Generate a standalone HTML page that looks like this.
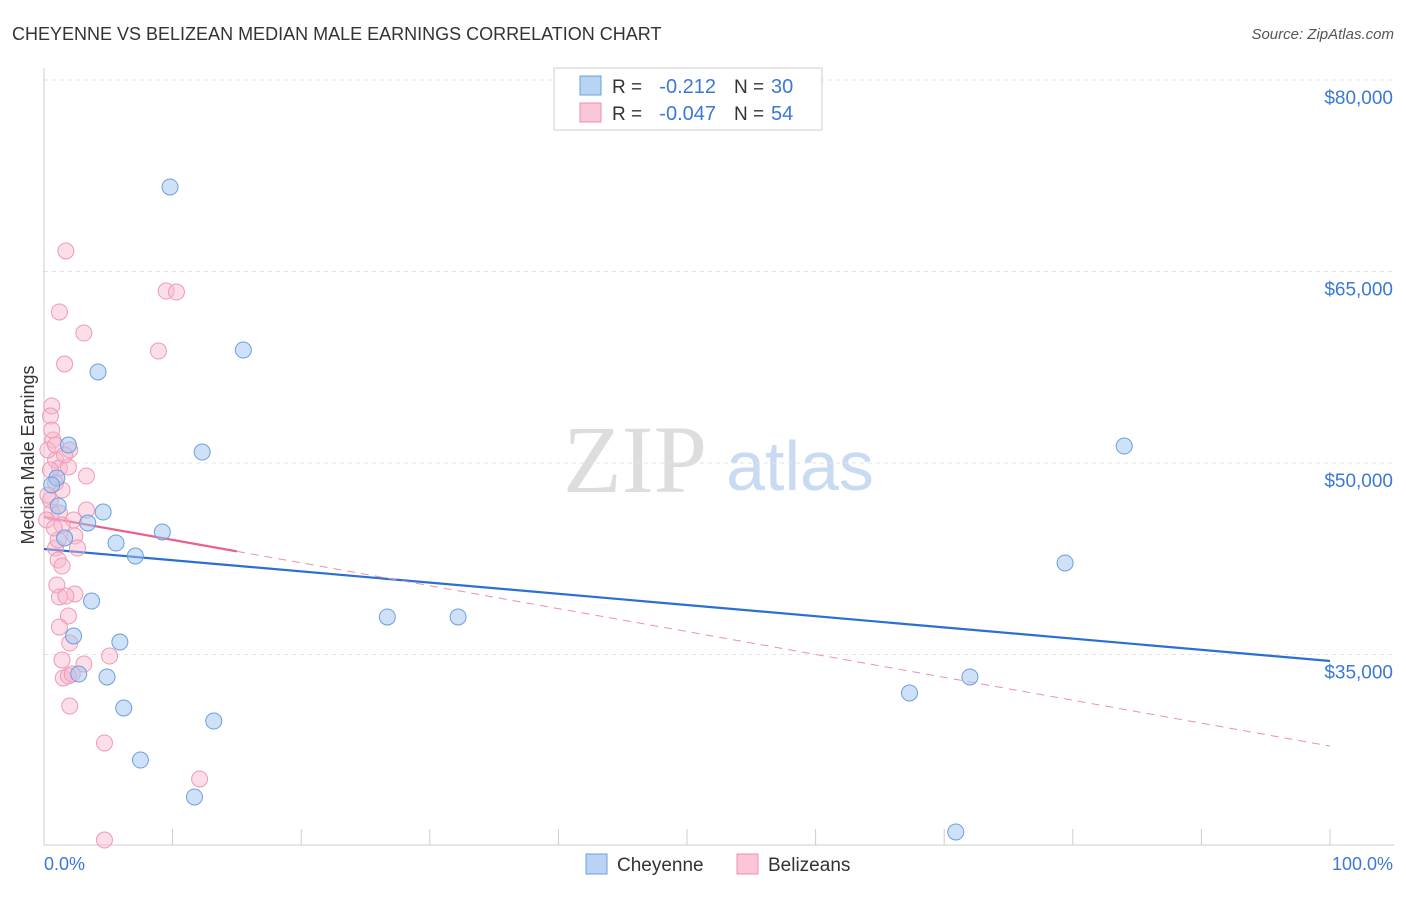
<!DOCTYPE html>
<html><head><meta charset="utf-8"><style>
body{margin:0;background:#fff;font-family:"Liberation Sans",sans-serif;}
</style></head><body>
<svg width="1406" height="892" xmlns="http://www.w3.org/2000/svg" id="chart">
<text x="12" y="40" font-size="18" fill="#333">CHEYENNE VS BELIZEAN MEDIAN MALE EARNINGS CORRELATION CHART</text>
<text x="1394" y="39" font-size="15" fill="#555" font-style="italic" text-anchor="end">Source: ZipAtlas.com</text>
<text x="635" y="492" font-size="96" fill="#ddd" font-family="Liberation Serif,serif" text-anchor="middle">ZIP</text>
<text x="800" y="490" font-size="70" fill="#c9dbf2" text-anchor="middle">atlas</text>
<g id="grid"></g><g id="axes"></g><g id="trend"></g><g id="pts"></g>
<text transform="translate(34,455) rotate(-90)" font-size="18" fill="#333" text-anchor="middle">Median Male Earnings</text>
<text x="44" y="870" font-size="18" fill="#3b78d8">0.0%</text>
<text x="1393" y="870" font-size="18" fill="#3b78d8" text-anchor="end">100.0%</text>
<g>
<rect x="554" y="68" width="268" height="62" fill="#fff" stroke="#ccc"/>
<rect x="580" y="76" width="21" height="19" fill="#b9d3f4" stroke="#6a9fe0"/>
<rect x="580" y="103" width="21" height="19" fill="#f9c6d6" stroke="#ee8fae"/>
<text x="612" y="93" font-size="19" fill="#333">R =</text>
<text x="716" y="93" font-size="20" fill="#3b78d8" text-anchor="end">-0.212</text>
<text x="734" y="93" font-size="19" fill="#333">N =</text>
<text x="771" y="93" font-size="20" fill="#3b78d8">30</text>
<text x="612" y="120" font-size="19" fill="#333">R =</text>
<text x="716" y="120" font-size="20" fill="#3b78d8" text-anchor="end">-0.047</text>
<text x="734" y="120" font-size="19" fill="#333">N =</text>
<text x="771" y="120" font-size="20" fill="#3b78d8">54</text>
</g>
<g>
<rect x="586" y="854" width="21" height="20" fill="#b9d3f4" stroke="#6a9fe0"/>
<text x="617" y="871" font-size="19" fill="#333">Cheyenne</text>
<rect x="737" y="854" width="21" height="20" fill="#f9c6d6" stroke="#ee8fae"/>
<text x="768" y="871" font-size="19" fill="#333">Belizeans</text>
</g>
</svg>
<script>
const yTicks=[35000,50000,65000,80000];
const yTickLabels=["$35,000","$50,000","$65,000","$80,000"];
const cheyX=[9.8,15.5,4.2,12.3,1.9,1.0,1.1,4.6,3.4,1.6,5.6,7.1,9.2,3.7,2.3,5.9,2.7,4.9,6.2,13.2,7.5,11.7,26.7,32.2,84.0,79.4,67.3,72.0,70.9,0.6];
const cheyY=[71620,58850,57130,50860,51410,48825,46630,46160,45300,44125,43730,42715,44595,39190,36450,35980,33470,33240,30810,29790,26735,23840,37940,37940,51330,42170,31985,33240,21100,48280];
const belX=[1.7,1.2,3.1,9.5,10.3,8.9,1.6,0.6,0.5,2.0,0.7,0.9,1.2,1.9,3.3,0.5,0.9,0.6,1.2,3.3,2.3,1.4,2.4,0.9,2.6,1.1,1.4,1.0,2.4,1.2,1.7,1.9,1.2,2.0,1.4,3.1,5.1,1.5,1.9,2.2,2.0,4.7,12.1,4.7,0.3,0.5,0.9,0.6,1.6,1.1,0.2,0.3,1.4,0.8];
const belY=[66605,61830,60180,63470,63390,58770,57755,54465,53680,51020,51800,50235,49610,49690,48980,49450,48430,46160,46080,46320,45535,45145,44280,43340,43340,42400,41930,40445,39740,39505,39580,38015,37150,35900,34570,34255,34880,33160,33315,33470,30965,28070,25250,20470,51020,47100,51410,52585,50625,43970,45535,47490,47885,44910];
const cheyTrend=[43265,34490];
const belTrend=[45770,27830];
const NS="http://www.w3.org/2000/svg";
const sx=p=>44+p*12.86;
const sy=v=>463-(v-50000)*0.012767;
function mk(t,a,p){const e=document.createElementNS(NS,t);for(const k in a)e.setAttribute(k,a[k]);p.appendChild(e);return e;}
const grid=document.getElementById('grid'),axes=document.getElementById('axes'),trend=document.getElementById('trend'),pts=document.getElementById('pts');
yTicks.forEach((v,i)=>{
 const l=mk('line',{x1:44,x2:1394,y1:sy(v),y2:sy(v),stroke:'#e3e3e3','stroke-dasharray':'4,4'},grid);
 
 
 const t=mk('text',{x:1393,y:sy(v)+24,'font-size':19,fill:'#3b78d8','text-anchor':'end'},grid);
 t.textContent=yTickLabels[i];
 
 
});
mk('line',{x1:44,x2:44,y1:68,y2:845,stroke:'#ccc'},axes);
mk('line',{x1:44,x2:1394,y1:845,y2:845,stroke:'#ccc'},axes);
for(let i=0;i<=10;i++){const t=mk('line',{x1:sx(i*10),x2:sx(i*10),y1:829,y2:845,stroke:'#ccc'},axes);
 
 }
const bl=mk('line',{x1:sx(0),y1:sy(cheyTrend[0]),x2:sx(100),y2:sy(cheyTrend[1]),stroke:'#2a6fd6','stroke-width':2.2},trend);


const bv=p=>belTrend[0]+(belTrend[1]-belTrend[0])*p/100;
const pd=mk('line',{x1:sx(15),y1:sy(bv(15)),x2:sx(100),y2:sy(bv(100)),stroke:'#ee8fae','stroke-width':1,'stroke-dasharray':'8,6'},trend);


const ps=mk('line',{x1:sx(0),y1:sy(bv(0)),x2:sx(15),y2:sy(bv(15)),stroke:'#e8608c','stroke-width':2.2},trend);


belX.forEach((x,i)=>{const c=mk('circle',{cx:sx(x),cy:sy(belY[i]),r:8,fill:'rgba(247,182,204,0.45)',stroke:'#ee9ab6','stroke-width':1},pts);
 
 });
cheyX.forEach((x,i)=>{const c=mk('circle',{cx:sx(x),cy:sy(cheyY[i]),r:8,fill:'rgba(160,195,240,0.5)',stroke:'#6a9fe0','stroke-width':1},pts);
 
 });
</script>
</body></html>
